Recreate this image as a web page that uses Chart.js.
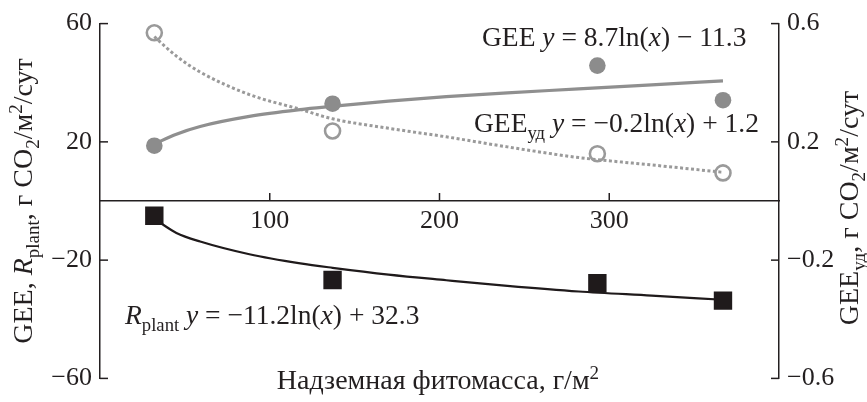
<!DOCTYPE html>
<html>
<head>
<meta charset="utf-8">
<script src="https://cdn.jsdelivr.net/npm/chart.js@4"></script>
<style>
  html, body { margin: 0; padding: 0; background: #ffffff; }
  canvas { display: block; }
</style>
</head>
<body>
<canvas id="c" width="867" height="402"></canvas>
<script>
// Above-ground phytomass, g/m2
const biomass = [32, 137, 293, 367];
// Measured fluxes
const geeValues = [18.7, 32.9, 45.8, 34.1];          // GEE, left axis
const geeSpecValues = [0.569, 0.237, 0.16, 0.095];   // specific GEE, right axis
const rplantValues = [-5.0, -26.7, -27.8, -33.7];    // R_plant, left axis

// Logarithmic trend curves, sampled along the x axis
const geeFitX = [32, 45, 59, 88, 118, 137, 170, 204, 240, 282, 325, 367];
const geeFitY = [19.3, 22.6, 25.2, 28.6, 30.9, 32.0, 33.8, 35.3, 36.6, 37.9, 39.3, 40.6];
const geeSpecFitX = [32, 45, 59, 88, 118, 137, 170, 204, 240, 282, 325, 367];
const geeSpecFitY = [0.556, 0.49, 0.436, 0.36, 0.31, 0.278, 0.246, 0.217, 0.183, 0.147, 0.122, 0.097];
const rplantFitX = [35, 45, 59, 88, 118, 137, 170, 204, 240, 282, 325, 367];
const rplantFitY = [-7.2, -10.8, -13.7, -18.0, -21.1, -22.6, -24.9, -26.8, -28.7, -30.6, -32.0, -33.4];

// Tick values
const xTicks = [100, 200, 300];
const yLeftTicks = [-60, -20, 20, 60];
const yRightTicks = [-0.6, -0.2, 0.2, 0.6];

const INK = '#231f20';
const SERIF = '"Liberation Serif", "Times New Roman", serif';
const FS_TICK = 26;   // tick labels
const FS_EQ = 27.5;   // trend equations
const FS_TITLE = 28;  // axis titles

const pts = (xs, ys) => xs.map((x, i) => ({ x, y: ys[i] }));
const fmt = v => (v < 0 ? '\u2212' : '') + String(Math.abs(v));

// A run of text pieces: [text, style], style is '', 'i', 'sub', 'isub' or 'sup'
function fontFor(s, size) {
  const small = (s === 'sub' || s === 'isub' || s === 'sup');
  const sz = small ? size * 0.68 : size;
  const it = (s === 'i' || s === 'isub') ? 'italic ' : '';
  return it + sz + 'px ' + SERIF;
}
function richWidth(ctx, parts, size) {
  let w = 0;
  for (const [t, s] of parts) {
    ctx.font = fontFor(s, size);
    w += ctx.measureText(t).width;
  }
  return w;
}
function drawRich(ctx, parts, x, y, size) {
  let cx = x;
  ctx.textBaseline = 'alphabetic';
  ctx.textAlign = 'left';
  for (const [t, s] of parts) {
    ctx.font = fontFor(s, size);
    let dy = 0;
    if (s === 'sub' || s === 'isub') dy = size * 0.24;
    if (s === 'sup') dy = -size * 0.36;
    ctx.fillText(t, cx, y + dy);
    cx += ctx.measureText(t).width;
  }
}

const labelsPlugin = {
  id: 'labels',
  afterDraw(chart) {
    const ctx = chart.ctx;
    const { x, y, y2 } = chart.scales;
    ctx.save();
    ctx.strokeStyle = INK;
    ctx.lineWidth = 1.5;
    // inward tick marks
    const tl = 8;
    const y0 = y.getPixelForValue(0);
    for (const v of xTicks) {
      const px = x.getPixelForValue(v);
      ctx.beginPath(); ctx.moveTo(px, y0); ctx.lineTo(px, y0 - tl); ctx.stroke();
    }
    for (const v of yLeftTicks) {
      const py = y.getPixelForValue(v);
      ctx.beginPath(); ctx.moveTo(y.right, py); ctx.lineTo(y.right + tl, py); ctx.stroke();
    }
    for (const v of yRightTicks) {
      const py = y2.getPixelForValue(v);
      ctx.beginPath(); ctx.moveTo(y2.left, py); ctx.lineTo(y2.left - tl, py); ctx.stroke();
    }

    ctx.fillStyle = INK;
    // trend equations
    drawRich(ctx, [['GEE ', ''], ['y', 'i'], [' = 8.7ln(', ''], ['x', 'i'], [') \u2212 11.3', '']], 482, 46, FS_EQ);
    drawRich(ctx, [['GEE', ''], ['уд', 'sub'], [' ', ''], ['y', 'i'], [' = \u22120.2ln(', ''], ['x', 'i'], [') + 1.2', '']], 474, 132, FS_EQ);
    drawRich(ctx, [['R', 'i'], ['plant', 'sub'], [' ', ''], ['y', 'i'], [' = \u221211.2ln(', ''], ['x', 'i'], [') + 32.3', '']], 125, 324, FS_EQ);

    // x axis title
    const xt = [['Надземная фитомасса, г/м', ''], ['2', 'sup']];
    const xw = richWidth(ctx, xt, FS_TITLE);
    drawRich(ctx, xt, 438 - xw / 2, 389, FS_TITLE);

    // left axis title
    const lt = [['GEE, ', ''], ['R', 'i'], ['plant', 'sub'], [', г CO', ''], ['2', 'sub'], ['/м', ''], ['2', 'sup'], ['/сут', '']];
    const lw = richWidth(ctx, lt, FS_TITLE);
    ctx.save();
    ctx.translate(32, 201);
    ctx.rotate(-Math.PI / 2);
    drawRich(ctx, lt, -lw / 2, 0, FS_TITLE);
    ctx.restore();

    // right axis title
    const rt = [['GEE', ''], ['уд', 'sub'], [', г CO', ''], ['2', 'sub'], ['/м', ''], ['2', 'sup'], ['/сут', '']];
    const rw = richWidth(ctx, rt, FS_TITLE);
    ctx.save();
    ctx.translate(858, 208);
    ctx.rotate(-Math.PI / 2);
    drawRich(ctx, rt, -rw / 2, 0, FS_TITLE);
    ctx.restore();

    ctx.restore();
  }
};

const axisCommon = {
  grid: { display: true, drawOnChartArea: false, drawTicks: false },
  border: { display: true, color: INK, width: 1.5 },
};

new Chart(document.getElementById('c'), {
  type: 'scatter',
  data: {
    datasets: [
      { label: 'GEE', data: pts(biomass, geeValues), yAxisID: 'y', order: 0,
        pointStyle: 'circle', pointRadius: 8.3, pointBackgroundColor: '#8c8c8c', pointBorderWidth: 0, showLine: false },
      { label: 'GEEуд', data: pts(biomass, geeSpecValues), yAxisID: 'y2', order: 0,
        pointStyle: 'circle', pointRadius: 7.5, pointBackgroundColor: 'rgba(0,0,0,0)', pointBorderColor: '#9a9a9a', pointBorderWidth: 2.6, showLine: false },
      { label: 'Rplant', data: pts(biomass, rplantValues), yAxisID: 'y', order: 0,
        pointStyle: 'rect', pointRadius: 13, pointBackgroundColor: '#1f1a1b', pointBorderWidth: 0, showLine: false },
      { type: 'line', label: 'GEE fit', data: pts(geeFitX, geeFitY), yAxisID: 'y', order: 1,
        borderColor: '#8f8f8f', borderWidth: 3.2, pointRadius: 0, tension: 0.4, cubicInterpolationMode: 'monotone', fill: false },
      { type: 'line', label: 'GEEуд fit', data: pts(geeSpecFitX, geeSpecFitY), yAxisID: 'y2', order: 1,
        borderColor: '#9a9a9a', borderWidth: 3, borderDash: [3, 2.5], pointRadius: 0, tension: 0.4, cubicInterpolationMode: 'monotone', fill: false },
      { type: 'line', label: 'Rplant fit', data: pts(rplantFitX, rplantFitY), yAxisID: 'y', order: 1,
        borderColor: '#1f1a1b', borderWidth: 2.2, pointRadius: 0, tension: 0.4, cubicInterpolationMode: 'monotone', fill: false },
    ]
  },
  options: {
    responsive: false,
    animation: false,
    events: [],
    layout: { padding: { top: 20, bottom: 16, left: 0, right: 0 } },
    plugins: { legend: { display: false }, tooltip: { enabled: false } },
    scales: {
      x: {
        ...axisCommon,
        type: 'linear', min: 0, max: 400,
        position: { y: 0 },
        afterBuildTicks: s => { s.ticks = xTicks.map(v => ({ value: v })); },
        ticks: { font: { family: SERIF, size: FS_TICK }, color: INK, padding: 5, callback: v => fmt(v) },
      },
      y: {
        ...axisCommon,
        type: 'linear', min: -60, max: 60, position: 'left',
        afterBuildTicks: s => { s.ticks = yLeftTicks.map(v => ({ value: v })); },
        afterFit: s => { s.width = 100; },
        ticks: { font: { family: SERIF, size: FS_TICK }, color: INK, padding: 8, callback: v => fmt(v) },
      },
      y2: {
        ...axisCommon,
        type: 'linear', min: -0.6, max: 0.6, position: 'right',
        afterBuildTicks: s => { s.ticks = yRightTicks.map(v => ({ value: v })); },
        afterFit: s => { s.width = 88; },
        ticks: { font: { family: SERIF, size: FS_TICK }, color: INK, padding: 8, callback: v => fmt(v) },
      },
    }
  },
  plugins: [labelsPlugin]
});
</script>
</body>
</html>
